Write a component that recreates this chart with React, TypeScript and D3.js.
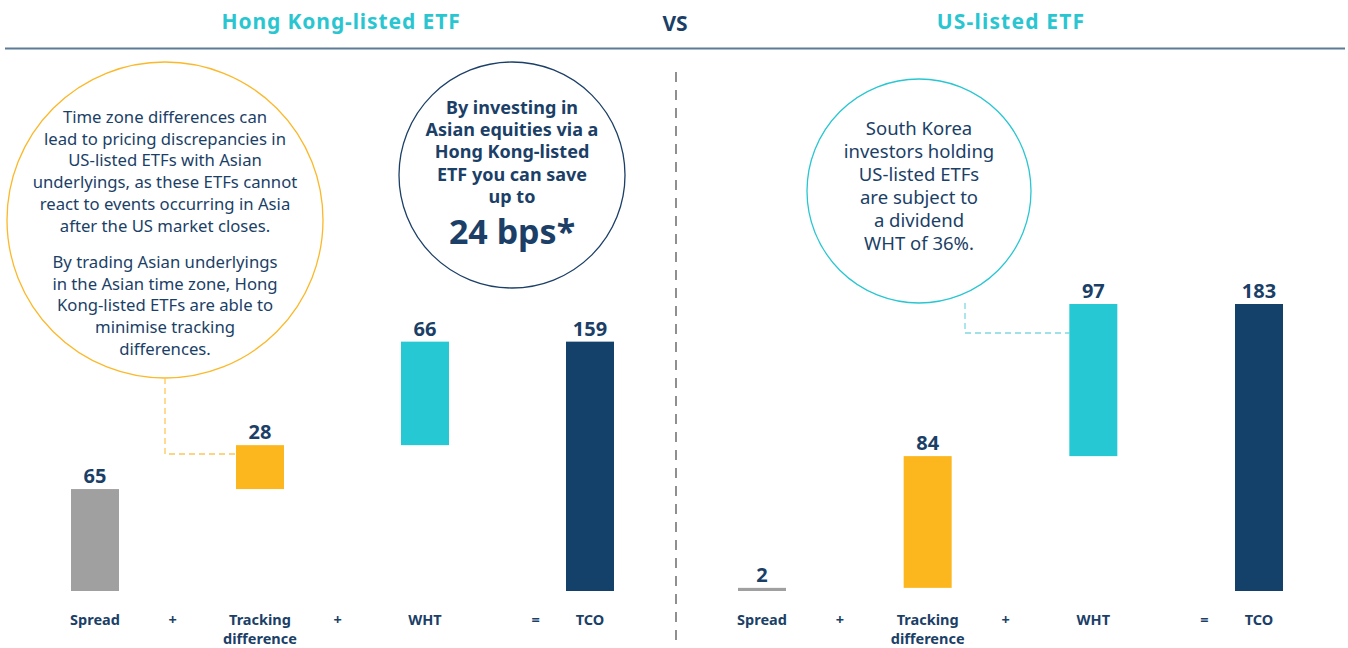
import React from "react";
import * as d3 from "d3";

const categories = ["Spread", "Tracking difference", "WHT", "TCO"];
const hkValues = [65, 28, 66, 159];
const usValues = [2, 84, 97, 183];
const operators = ["+", "+", "="];
const barColors = ["#a0a0a0", "#fdb71e", "#26c9d3", "#13416a"];

const leftNote1 = [
  "Time zone differences can",
  "lead to pricing discrepancies in",
  "US-listed ETFs with Asian",
  "underlyings, as these ETFs cannot",
  "react to events occurring in Asia",
  "after the US market closes.",
];
const leftNote2 = [
  "By trading Asian underlyings",
  "in the Asian time zone, Hong",
  "Kong-listed ETFs are able to",
  "minimise tracking",
  "differences.",
];
const midNote = [
  "By investing in",
  "Asian equities via a",
  "Hong Kong-listed",
  "ETF you can save",
  "up to",
];
const midBig = "24 bps*";
const rightNote = [
  "South Korea",
  "investors holding",
  "US-listed ETFs",
  "are subject to",
  "a dividend",
  "WHT of 36%.",
];

const NAVY = "#1b3f67";
const CYAN = "#29c6d1";
const FONT = "'Noto Sans', 'Open Sans', sans-serif";

const W = 1348;
const H = 648;

const y = d3.scaleLinear().domain([0, 183]).range([591, 304]);
const barW = 48;

function Panel({ values, x0, x1 }: { values: number[]; x0: number; x1: number }) {
  const x = d3.scalePoint<string>().domain(categories).range([x0, x1]);
  const step = x.step();
  const opFrac = [0.47, 0.47, 0.67];
  let cum = 0;
  const bars = values.map((v, i) => {
    let lo: number, hi: number;
    if (i < values.length - 1) {
      lo = cum;
      hi = cum + v;
      cum = hi;
    } else {
      lo = 0;
      hi = v;
    }
    return { cat: categories[i], v, lo, hi, color: barColors[i] };
  });
  return (
    <g>
      {bars.map((b) => {
        const cx = x(b.cat)!;
        const words = b.cat.split(" ");
        return (
          <g key={b.cat}>
            <rect
              x={cx - barW / 2}
              y={y(b.hi)}
              width={barW}
              height={Math.max(y(b.lo) - y(b.hi), 0)}
              fill={b.color}
            />
            <text
              x={cx}
              y={y(b.hi) - 6}
              textAnchor="middle"
              fontFamily={FONT}
              fontWeight={700}
              fontSize={20}
              fill={NAVY}
            >
              {b.v}
            </text>
            <text x={cx} y={625} textAnchor="middle" fontFamily={FONT} fontWeight={700} fontSize={14.5} fill={NAVY}>
              {words.map((w, i) => (
                <tspan key={i} x={cx} dy={i === 0 ? 0 : 19}>
                  {w}
                </tspan>
              ))}
            </text>
          </g>
        );
      })}
      {operators.map((op, i) => (
        <text
          key={i}
          x={x(categories[i])! + step * opFrac[i]}
          y={625}
          textAnchor="middle"
          fontFamily={FONT}
          fontWeight={700}
          fontSize={14.5}
          fill={NAVY}
        >
          {op}
        </text>
      ))}
    </g>
  );
}

function Lines({ lines, cx, y0, dy, size, weight }: { lines: string[]; cx: number; y0: number; dy: number; size: number; weight: number }) {
  return (
    <text textAnchor="middle" fontFamily={FONT} fontSize={size} fontWeight={weight} fill={NAVY}>
      {lines.map((l, i) => (
        <tspan key={i} x={cx} y={y0 + i * dy}>
          {l}
        </tspan>
      ))}
    </text>
  );
}

export default function App() {
  const hkX = d3.scalePoint<string>().domain(categories).range([95, 590]);
  const usX = d3.scalePoint<string>().domain(categories).range([762, 1259]);
  const trackHK = hkX(categories[1])! - barW / 2;
  const whtUS = usX(categories[2])! - barW / 2;
  return (
    <svg width={W} height={H} style={{ position: "absolute", left: 0, top: 0, background: "#fff" }}>
      {/* Header */}
      <text x={341} y={29} textAnchor="middle" fontFamily={FONT} fontWeight={700} fontSize={21} letterSpacing={0.9} fill={CYAN}>
        Hong Kong-listed ETF
      </text>
      <text x={675} y={31} textAnchor="middle" fontFamily={FONT} fontWeight={700} fontSize={21} fill={NAVY}>
        VS
      </text>
      <text x={1011} y={29} textAnchor="middle" fontFamily={FONT} fontWeight={700} fontSize={21} letterSpacing={1.2} fill={CYAN}>
        US-listed ETF
      </text>
      <line x1={5} x2={1345} y1={48.5} y2={48.5} stroke="#5d7b95" strokeWidth={2} />

      {/* Divider */}
      <line x1={676} x2={676} y1={72} y2={648} stroke="#555" strokeWidth={1.3} strokeDasharray="10 8" />

      {/* Left circle + connector */}
      <circle cx={165} cy={220} r={158} fill="none" stroke="#fbb829" strokeWidth={1.3} />
      <polyline
        points={`165,378 165,454 ${trackHK},454`}
        fill="none"
        stroke="#fdc75a"
        strokeWidth={1.3}
        strokeDasharray="6 4"
      />
      <Lines lines={leftNote1} cx={165} y0={123} dy={21.7} size={16.7} weight={400} />
      <Lines lines={leftNote2} cx={165} y0={268} dy={21.7} size={16.7} weight={400} />

      {/* Middle circle */}
      <circle cx={512} cy={175} r={113} fill="none" stroke={NAVY} strokeWidth={1.3} />
      <Lines lines={midNote} cx={512} y0={114} dy={22.2} size={18} weight={700} />
      <text x={512} y={244} textAnchor="middle" fontFamily={FONT} fontWeight={700} fontSize={34} fill={NAVY}>
        {midBig}
      </text>

      {/* Right circle + connector */}
      <circle cx={919} cy={191} r={112} fill="none" stroke={CYAN} strokeWidth={1.3} />
      <polyline
        points={`965,303 965,333 ${whtUS},333`}
        fill="none"
        stroke="#7fd9df"
        strokeWidth={1.3}
        strokeDasharray="6 4"
      />
      <Lines lines={rightNote} cx={919} y0={135} dy={23} size={18.5} weight={400} />

      <Panel values={hkValues} x0={95} x1={590} />
      <Panel values={usValues} x0={762} x1={1259} />
    </svg>
  );
}
